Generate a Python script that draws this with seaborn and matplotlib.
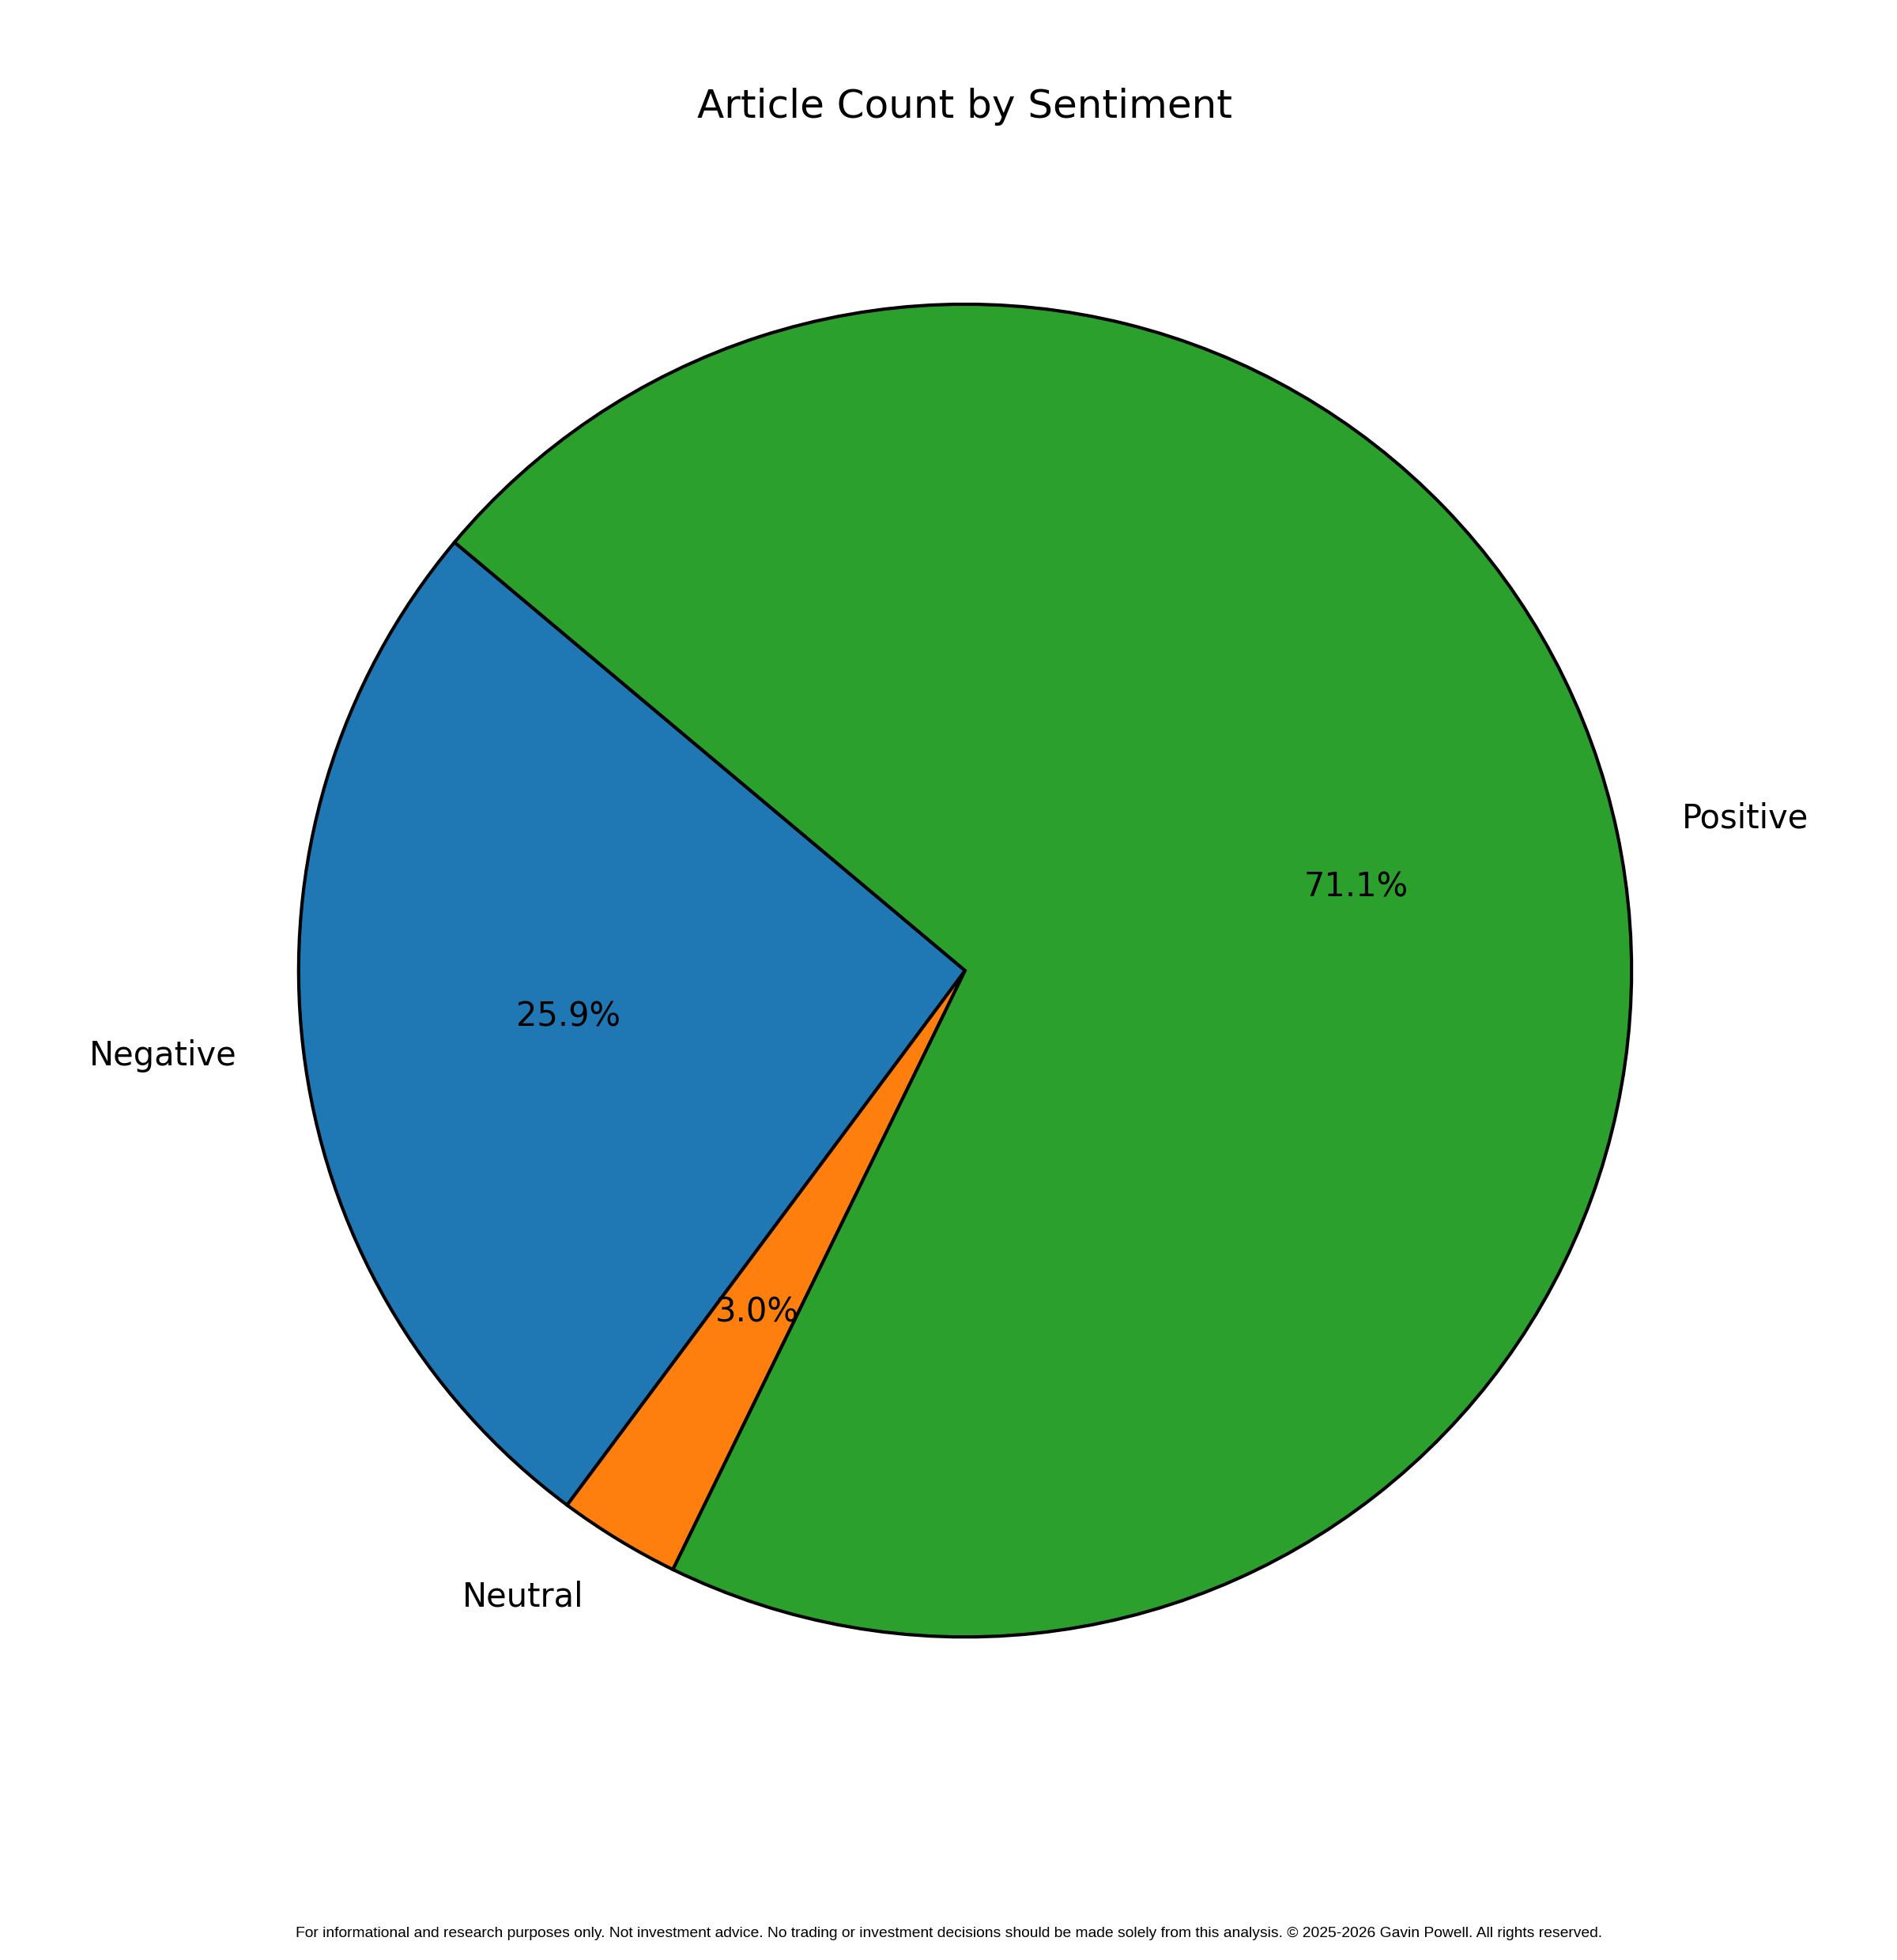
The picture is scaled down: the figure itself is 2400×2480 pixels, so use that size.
import matplotlib
matplotlib.use("Agg")
import matplotlib.pyplot as plt
import seaborn as sns

# Data
sentiments = ["Negative", "Neutral", "Positive"]
article_counts = [35, 4, 96]
title_text = "Article Count by Sentiment"
footer_text = ("For informational and research purposes only. Not investment advice. "
               "No trading or investment decisions should be made solely from this analysis. "
               "\u00a9 2025-2026 Gavin Powell. All rights reserved.")

sns.set_style("white")
plt.rcParams["font.family"] = ["DejaVu Sans"]
plt.rcParams["text.color"] = "black"
plt.rcParams["axes.labelcolor"] = "black"
plt.rcParams["axes.titlecolor"] = "black"

colors = sns.color_palette("tab10", 3)

fig = plt.figure(figsize=(12, 12.4), dpi=200)
fig.patch.set_facecolor("white")
ax = fig.add_axes([0.0696, 0.0798, 0.8783, 0.850])

ax.pie(
    article_counts,
    labels=sentiments,
    colors=colors,
    autopct="%1.1f%%",
    startangle=140,
    wedgeprops={"edgecolor": "black", "linewidth": 1.5},
    textprops={"fontsize": 15, "color": "black"},
)
ax.set_aspect("equal")
ax.set_title(title_text, fontsize=18, pad=9, color="black")

fig.text(0.5, 0.01, footer_text, ha="center", va="bottom", fontsize=6.95,
         color="black", family=["Liberation Sans", "DejaVu Sans"])

fig.savefig("out.png", dpi=200, facecolor="white")
